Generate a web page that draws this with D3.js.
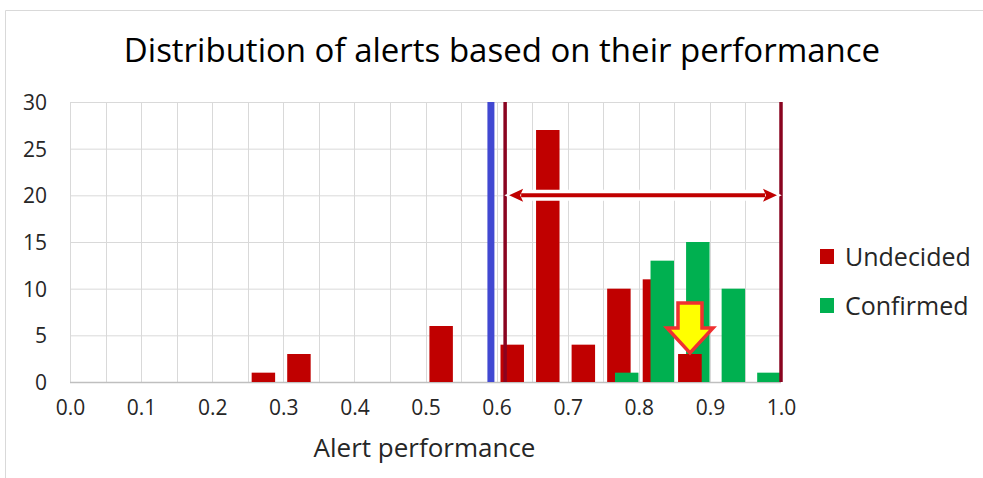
<!DOCTYPE html>
<html>
<head>
<meta charset="utf-8">
<script src="https://cdn.jsdelivr.net/npm/d3@7"></script>
<style>
  body { margin: 0; background: #fff; }
  svg text { font-family: "Open Sans", sans-serif; fill: #262626; }
</style>
</head>
<body>
<svg id="chart" width="983" height="478"></svg>
<script>
// ##########################################   DATA
// bins are 0.05 wide, keyed by their lower edge
const binStarts = [0.25, 0.30, 0.50, 0.60, 0.65, 0.70, 0.75, 0.80, 0.85, 0.90, 0.95];
const undecided = [1, 3, 6, 4, 27, 4, 10, 11, 3, 0, 0];
const confirmed = [0, 0, 0, 0, 0, 0, 1, 13, 15, 10, 1];
const highlightBin = 0.85;           // the undecided bar pointed at by the yellow arrow
const seriesNames = ['Undecided', 'Confirmed'];
const seriesColors = ['#c00000', '#00b050'];
const xTicks = [0, 0.1, 0.2, 0.3, 0.4, 0.5, 0.6, 0.7, 0.8, 0.9, 1.0];
const yTicks = [0, 5, 10, 15, 20, 25, 30];
const thresholdBlue = 0.592;
const rangeStart = 0.612;
const rangeEnd = 1.0;
const rangeArrowValue = 20;          // height of the double arrow
const binWidth = 0.05;

const svg = d3.select('#chart');

// outer chart frame (only top/left visible in the crop)
svg.append('path')
  .attr('d', 'M5.5,478 L5.5,10.5 L983,10.5')
  .attr('fill', 'none')
  .attr('stroke', '#d9d9d9');

// scales
const x = d3.scaleLinear().domain([0, 1]).range([70, 781]);
const y = d3.scaleLinear().domain([0, 30]).range([382, 102]);
const bw = x(binWidth) - x(0);

// ##########################################   GRID
const grid = svg.append('g');
grid.selectAll('line.hgrid')
  .data(yTicks.slice(1))
  .join('line')
  .classed('hgrid', true)
  .attr('x1', x(0)).attr('x2', x(1))
  .attr('y1', d => y(d) + 0.5).attr('y2', d => y(d) + 0.5)
  .attr('stroke', '#d9d9d9');

grid.selectAll('line.vgrid')
  .data(d3.range(0, 21).map(i => i * binWidth))
  .join('line')
  .classed('vgrid', true)
  .attr('x1', d => Math.round(x(d)) + 0.5).attr('x2', d => Math.round(x(d)) + 0.5)
  .attr('y1', y(30)).attr('y2', y(0))
  .attr('stroke', '#d9d9d9');

// bottom axis line
svg.append('line')
  .attr('x1', x(0)).attr('x2', x(1))
  .attr('y1', y(0) + 0.5).attr('y2', y(0) + 0.5)
  .attr('stroke', '#bfbfbf')
  .attr('stroke-width', 1.5);

// ##########################################   AXES
const yAxis = svg.append('g')
  .attr('transform', 'translate(' + (x(0) - 23) + ',0)')
  .call(d3.axisLeft(y).tickValues(yTicks).tickSize(0).tickPadding(0));
yAxis.select('.domain').remove();
yAxis.selectAll('text')
  .style('font-size', '21px')
  .attr('dy', '0.35em');

const xAxis = svg.append('g')
  .attr('transform', 'translate(0,415)')
  .call(d3.axisBottom(x).tickValues(xTicks).tickFormat(d3.format('.1f')).tickSize(0).tickPadding(0));
xAxis.select('.domain').remove();
xAxis.selectAll('text')
  .style('font-size', '21px')
  .attr('dy', '0');

svg.append('text')
  .attr('x', (x(0) + x(1)) / 2 - 1)
  .attr('y', 457)
  .attr('text-anchor', 'middle')
  .style('font-size', '26px')
  .text('Alert performance');

svg.append('text')
  .attr('x', 502)
  .attr('y', 62)
  .attr('text-anchor', 'middle')
  .style('font-size', '33px')
  .style('fill', '#000')
  .text('Distribution of alerts based on their performance');

// ##########################################   BARS
const rows = binStarts.map((b, i) => ({ bin: b, u: undecided[i], c: confirmed[i] }));

const bars = svg.append('g');
// undecided sits at the left of each bin, confirmed overlaps it shifted right
bars.selectAll('rect.undecided')
  .data(rows.filter(d => d.u > 0))
  .join('rect')
  .classed('undecided', true)
  .attr('x', d => x(d.bin) + bw * 0.11)
  .attr('width', bw * 0.66)
  .attr('y', d => y(d.u))
  .attr('height', d => y(0) - y(d.u))
  .attr('fill', seriesColors[0]);

bars.selectAll('rect.confirmed')
  .data(rows.filter(d => d.c > 0))
  .join('rect')
  .classed('confirmed', true)
  .attr('x', d => x(d.bin) + bw * 0.33)
  .attr('width', bw * 0.66)
  .attr('y', d => y(d.c))
  .attr('height', d => y(0) - y(d.c))
  .attr('fill', seriesColors[1]);

// highlighted undecided bar redrawn on top of the green one
const hl = rows.find(d => d.bin === highlightBin);
bars.append('rect')
  .attr('x', x(hl.bin) + bw * 0.11)
  .attr('width', bw * 0.66)
  .attr('y', y(hl.u))
  .attr('height', y(0) - y(hl.u))
  .attr('fill', seriesColors[0]);

// ##########################################   ANNOTATIONS
// threshold lines
svg.append('line')
  .attr('x1', x(thresholdBlue)).attr('x2', x(thresholdBlue))
  .attr('y1', y(30)).attr('y2', y(0))
  .attr('stroke', '#4148d2')
  .attr('stroke-width', 7);

[rangeStart, rangeEnd].forEach(v => {
  svg.append('line')
    .attr('x1', x(v)).attr('x2', x(v))
    .attr('y1', y(30)).attr('y2', y(0))
    .attr('stroke', '#8a0420')
    .attr('stroke-width', 3.5);
});

// double arrow across the range, with a white halo
const ay = y(rangeArrowValue);
const ax0 = x(rangeStart) + 4;
const ax1 = x(rangeEnd) - 4;
const head = 14, half = 6.5;
const arrowPath = d3.path();
arrowPath.moveTo(ax0 + head - 2, ay);
arrowPath.lineTo(ax1 - head + 2, ay);

const headPath = (tip, dir) => 'M' + tip + ',' + ay + 'L' + (tip + dir * head) + ',' + (ay - half) +
  'L' + (tip + dir * (head - 3)) + ',' + ay + 'L' + (tip + dir * head) + ',' + (ay + half) + 'Z';

svg.append('path')
  .attr('d', arrowPath.toString())
  .attr('stroke', '#fff')
  .attr('stroke-width', 11);
[[ax0, 1], [ax1, -1]].forEach(([tip, dir]) => {
  svg.append('path')
    .attr('d', headPath(tip, dir))
    .attr('fill', '#fff')
    .attr('stroke', '#fff')
    .attr('stroke-width', 4);
});
svg.append('path')
  .attr('d', arrowPath.toString())
  .attr('stroke', '#c00000')
  .attr('stroke-width', 4);
[[ax0, 1], [ax1, -1]].forEach(([tip, dir]) => {
  svg.append('path')
    .attr('d', headPath(tip, dir))
    .attr('fill', '#c00000');
});

// yellow block arrow pointing at the highlighted bar
const cx = x(hl.bin) + bw * 0.11 + bw * 0.33;
const tipY = y(hl.u) - 1;
const shaftW = 12, headW = 23, headH = 25, total = 50;
const block = [
  [cx - shaftW, tipY - total], [cx + shaftW, tipY - total],
  [cx + shaftW, tipY - headH], [cx + headW, tipY - headH],
  [cx, tipY],
  [cx - headW, tipY - headH], [cx - shaftW, tipY - headH]
];
svg.append('polygon')
  .attr('points', block.map(p => p.join(',')).join(' '))
  .attr('fill', '#ffff00')
  .attr('stroke', '#f03030')
  .attr('stroke-width', 3.5)
  .attr('stroke-linejoin', 'miter');

// ##########################################   LEGEND
const legend = svg.append('g')
  .selectAll('g')
  .data(seriesNames)
  .join('g')
  .attr('transform', (d, i) => 'translate(820,' + (249 + i * 49) + ')');
legend.append('rect')
  .attr('width', 14).attr('height', 15)
  .attr('fill', (d, i) => seriesColors[i]);
legend.append('text')
  .attr('x', 25)
  .attr('y', 17)
  .style('font-size', '25px')
  .text(d => d);
</script>
</body>
</html>
